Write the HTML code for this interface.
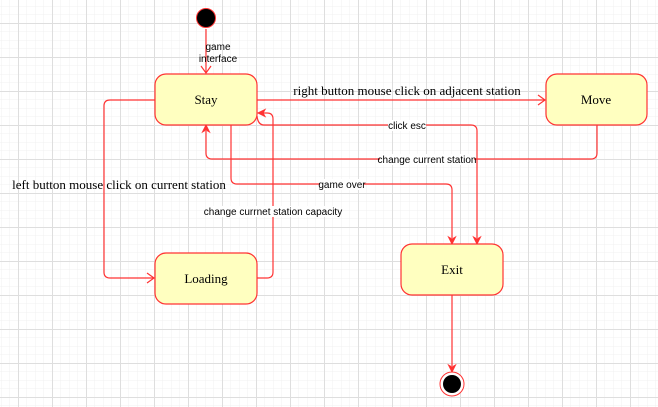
<!DOCTYPE html>
<html><head><style>
body{margin:0;background:#fff;}
svg{display:block;}
</style></head><body>
<svg width="658" height="407" xmlns="http://www.w3.org/2000/svg">
<defs>
<pattern id="minor" width="8.5" height="8.5" patternUnits="userSpaceOnUse" x="1" y="6">
<path d="M0 0H8.5M0 0V8.5" stroke="#f0f0f0" stroke-width="1" fill="none"/>
</pattern>
<pattern id="major" width="34" height="34" patternUnits="userSpaceOnUse" x="18" y="23">
<path d="M0 0.5H34M0.5 0V34" stroke="#dedede" stroke-width="1" fill="none"/>
</pattern>
</defs>
<rect width="658" height="407" fill="url(#minor)"/>
<rect width="658" height="407" fill="url(#major)"/>
<g fill="none" stroke="#ff3333" stroke-width="1.2">
<path d="M206 29V73"/><path d="M201 66L206 73L211 66"/>
<path d="M257 100H545"/><path d="M538 95L545 100L538 105"/>
<path d="M155 100H110Q104 100 104 106V272Q104 278 110 278H154"/><path d="M147 273L154 278L147 283"/>
<path d="M257 278H267Q273 278 273 272V119Q273 113 267 113H262"/>
<path d="M231 125V178Q231 184 237 184H446Q452 184 452 190V238"/>
<path d="M257 116Q258 125 264 125H471Q477 125 477 131V238"/>
<path d="M597 125V153Q597 159 591 159H212Q206 159 206 153V131"/>
<path d="M452 295V366"/>
</g>
<g fill="#ff3333" stroke="#ff3333">
<path d="M258 113L265 109.5L263 113L265 116.5Z"/>
<path d="M452 244L448.5 237L452 239L455.5 237Z"/>
<path d="M477 244L473.5 237L477 239L480.5 237Z"/>
<path d="M206 125L202.5 132L206 130L209.5 132Z"/>
<path d="M452 372L448.5 365L452 367L455.5 365Z"/>
</g>
<circle cx="206" cy="18" r="9.5" fill="#000" stroke="#ff3333" stroke-width="1"/>
<circle cx="452" cy="384" r="12" fill="#fff" stroke="#ff3333" stroke-width="1"/>
<circle cx="452" cy="384" r="9" fill="#000"/>
<g fill="#ffffc0" stroke="#ff3333" stroke-width="1.2">
<rect x="155" y="74" width="102" height="51" rx="11"/>
<rect x="546" y="74" width="101" height="51" rx="11"/>
<rect x="401" y="244" width="102" height="51" rx="11"/>
<rect x="155" y="253" width="102" height="51" rx="11"/>
</g>
<g font-family="Liberation Serif, serif" font-size="13" text-anchor="middle" fill="#000">
<text x="206" y="104">Stay</text>
<text x="596" y="104">Move</text>
<text x="452" y="274">Exit</text>
<text x="206" y="283">Loading</text>
<text x="407" y="95">right button mouse click on adjacent station</text>
<text x="119" y="189">left button mouse click on current station</text>
</g>
<g font-family="Liberation Sans, sans-serif" font-size="10" text-anchor="middle" fill="#000">
<text x="218" y="50">game</text>
<text x="218" y="62">interface</text>
<rect x="388" y="120" width="38" height="11" fill="#fff"/>
<text x="407" y="129">click esc</text>
<rect x="380" y="154" width="94" height="11" fill="#fff"/>
<text x="427" y="163">change current station</text>
<rect x="320" y="179" width="44" height="11" fill="#fff"/>
<text x="342" y="188">game over</text>
<rect x="208" y="206" width="132" height="11" fill="#fff"/>
<text x="273" y="215">change currnet station capacity</text>
</g>
</svg>
</body></html>
